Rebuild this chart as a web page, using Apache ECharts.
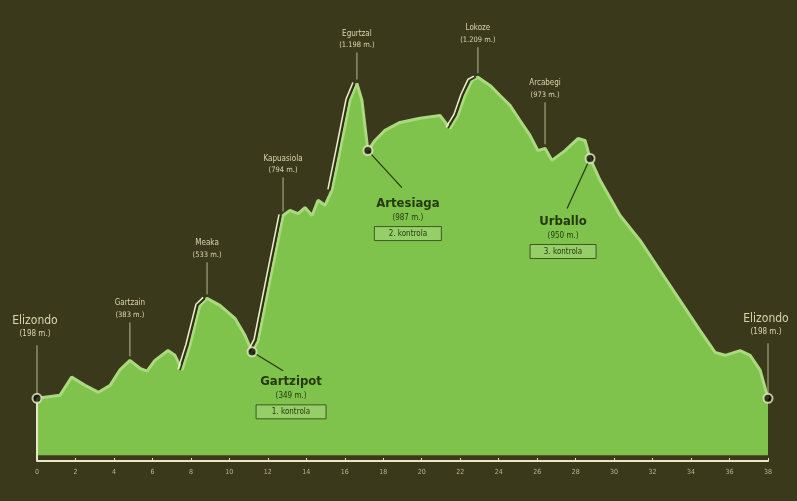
<!DOCTYPE html>
<html>
<head>
<meta charset="utf-8">
<script src="https://cdn.jsdelivr.net/npm/echarts@6/dist/echarts.min.js"></script>
<style>
html,body{margin:0;padding:0;background:#3b391b;}
#c{width:797px;height:501px;}
</style>
</head>
<body>
<div id="c"></div>
<script>
// ---- data ----
const distKm = [0, 1.2, 1.8, 2.5, 3.2, 3.8, 4.3, 4.83, 5.35, 5.72, 6.13, 6.81, 7.17, 7.54, 7.95, 8.47, 8.84,
  9.51, 10.29, 10.81, 11.18, 11.49, 12.11, 12.79, 13.15, 13.57, 13.93, 14.3, 14.61, 14.97, 15.33, 15.75,
  16.27, 16.63, 16.89, 17.2, 17.57, 18.09, 18.87, 19.91, 20.95, 21.47, 21.88, 22.24, 22.61, 22.92, 23.55,
  24.07, 24.59, 25.11, 25.63, 26.04, 26.41, 26.77, 27.45, 28.12, 28.49, 28.75, 29.27, 30.31, 31.35, 32.39,
  33.43, 34.47, 35.25, 35.77, 36.55, 37.07, 37.59, 38];
const elevM = [198, 208, 265, 239, 217, 239, 287, 318, 293, 284, 318, 349, 334, 287, 366, 492, 514,
  492, 451, 397, 345, 381, 571, 776, 792, 782, 801, 776, 824, 808, 855, 981,
  1140, 1193, 1140, 981, 1013, 1045, 1070, 1083, 1092, 1051, 1092, 1155, 1203, 1213, 1187,
  1155, 1124, 1076, 1029, 981, 988, 950, 981, 1019, 1013, 956, 887, 776, 697, 602,
  507, 412, 343, 334, 349, 334, 287, 198];
const xTicks = [0, 2, 4, 6, 8, 10, 12, 14, 16, 18, 20, 22, 24, 26, 28, 30, 32, 34, 36, 38];

const peakNames = ['Elizondo', 'Gartzain', 'Meaka', 'Kapuasiola', 'Egurtzal', 'Lokoze', 'Arcabegi', 'Elizondo'];
const peakHeights = ['(198 m.)', '(383 m.)', '(533 m.)', '(794 m.)', '(1.198 m.)', '(1.209 m.)', '(973 m.)', '(198 m.)'];
const peakKm = [0, 4.83, 8.84, 12.79, 16.63, 22.92, 26.41, 38];
const peakElev = [198, 318, 514, 776, 1193, 1213, 988, 198];

const cpNames = ['Gartzipot', 'Artesiaga', 'Urballo'];
const cpHeights = ['(349 m.)', '(987 m.)', '(950 m.)'];
const cpTags = ['1. kontrola', '2. kontrola', '3. kontrola'];
const cpKm = [11.18, 17.2, 28.75];
const cpElev = [345, 981, 956];

const dotKm = [0, 11.18, 17.2, 28.75, 38];
const dotElev = [198, 345, 981, 956, 198];

const climbRanges = [[7.54, 8.84], [11.18, 12.79], [15.33, 16.63], [21.47, 22.92]];

// ---- layout / style (pixels) ----
const peakGap = [53, 38, 36, 38, 31, 30, 46, 55];
const cpLayout = [
  {lx: 31, ly: 19, tx: 39, ty: 30, bw: 70},
  {lx: 34, ly: 37, tx: 40, ty: 53, bw: 67},
  {lx: -23, ly: 50, tx: -27, ty: 63, bw: 66}
];
const FONT = '"Liberation Sans Narrow","DejaVu Sans Condensed","Roboto Condensed",Roboto,sans-serif';
const CREAM = '#d9d6ae';
const DARK = '#26380f';

const profile = distKm.map((d, i) => [d, elevM[i]]);

const chart = echarts.init(document.getElementById('c'));
chart.setOption({
  backgroundColor: '#3b391b',
  animation: false,
  grid: {left: 37, right: 29, top: 18, bottom: 40},
  xAxis: {
    type: 'value', min: 0, max: 38, interval: 2,
    axisLine: {show: true, lineStyle: {color: '#e6e8c4', width: 2}},
    axisTick: {show: true, length: 3, inside: true, lineStyle: {color: '#e6e8c4', width: 1}},
    splitLine: {show: false},
    axisLabel: {color: '#b9b48a', fontSize: 7, margin: 8, fontFamily: FONT,
      formatter: v => xTicks.includes(v) ? String(v) : ''}
  },
  yAxis: {type: 'value', min: 0, max: 1400, show: false, splitLine: {show: false}},
  series: [
    {
      type: 'line', data: profile, symbol: 'none', z: 2,
      lineStyle: {color: '#abd97f', width: 3},
      areaStyle: {color: '#7fc34c', opacity: 1, origin: 18},
      markLine: {
        silent: true, symbol: 'none', label: {show: false},
        lineStyle: {color: '#e6e8c4', width: 2, type: 'solid'},
        data: [[{coord: [0, 0]}, {coord: [0, 198]}]]
      }
    },
    {
      type: 'custom', z: 3, silent: true,
      data: climbRanges,
      renderItem: function (params, api) {
        const r = climbRanges[params.dataIndex];
        const pts = profile.filter(p => p[0] >= r[0] - 1e-6 && p[0] <= r[1] + 1e-6).map(p => api.coord(p));
        const shift = (dx, dy) => pts.map(p => [p[0] + dx, p[1] + dy]);
        return {type: 'group', children: [
          {type: 'polyline', shape: {points: shift(-2, 0)}, style: {stroke: '#2a3212', lineWidth: 1.5, fill: null}},
          {type: 'polyline', shape: {points: shift(-4, -1)}, style: {stroke: '#eef0d0', lineWidth: 1.5, fill: null}}
        ]};
      }
    },
    {
      type: 'custom', z: 4, silent: true,
      data: peakKm.map((k, i) => [k, peakElev[i]]),
      renderItem: function (params, api) {
        const i = params.dataIndex;
        const p = api.coord([api.value(0), api.value(1)]);
        const gap = peakGap[i];
        const big = (i === 0 || i === peakKm.length - 1);
        const top = p[1] - gap;
        return {type: 'group', children: [
          {type: 'line', shape: {x1: p[0], y1: p[1] - 4, x2: p[0], y2: top}, style: {stroke: CREAM, lineWidth: 1, opacity: 0.8}},
          {type: 'text', style: {text: peakNames[i], x: p[0] - (big ? 2 : 0), y: top - (big ? 24 : 19), fill: CREAM,
            fontSize: big ? 12 : 8, fontFamily: FONT, align: 'center', verticalAlign: 'middle'}},
          {type: 'text', style: {text: peakHeights[i], x: p[0] - (big ? 2 : 0), y: top - (big ? 11 : 7), fill: CREAM,
            fontSize: big ? 8 : 7.5, fontFamily: FONT, align: 'center', verticalAlign: 'middle'}}
        ]};
      }
    },
    {
      type: 'custom', z: 4, silent: true,
      data: cpKm.map((k, i) => [k, cpElev[i]]),
      renderItem: function (params, api) {
        const i = params.dataIndex;
        const L = cpLayout[i];
        const p = api.coord([api.value(0), api.value(1)]);
        const cx = p[0] + L.tx, ny = p[1] + L.ty;
        return {type: 'group', children: [
          {type: 'line', shape: {x1: p[0], y1: p[1], x2: p[0] + L.lx, y2: p[1] + L.ly}, style: {stroke: DARK, lineWidth: 1.2}},
          {type: 'text', style: {text: cpNames[i], x: cx, y: ny, fill: DARK, fontSize: 13, fontWeight: 'bold',
            fontFamily: FONT, align: 'center', verticalAlign: 'middle'}},
          {type: 'text', style: {text: cpHeights[i], x: cx, y: ny + 14, fill: DARK, fontSize: 8,
            fontFamily: FONT, align: 'center', verticalAlign: 'middle'}},
          {type: 'rect', shape: {x: cx - L.bw / 2, y: ny + 23, width: L.bw, height: 14},
            style: {fill: 'rgba(220,245,190,0.25)', stroke: '#3c5a1c', lineWidth: 1}},
          {type: 'text', style: {text: cpTags[i], x: cx, y: ny + 30, fill: DARK, fontSize: 8,
            fontFamily: FONT, align: 'center', verticalAlign: 'middle'}}
        ]};
      }
    },
    {
      type: 'scatter', z: 5, silent: true,
      data: dotKm.map((k, i) => [k, dotElev[i]]),
      symbol: 'circle', symbolSize: 9,
      itemStyle: {color: '#111108', borderColor: '#e9ebc8', borderWidth: 2}
    }
  ]
});
</script>
</body>
</html>
